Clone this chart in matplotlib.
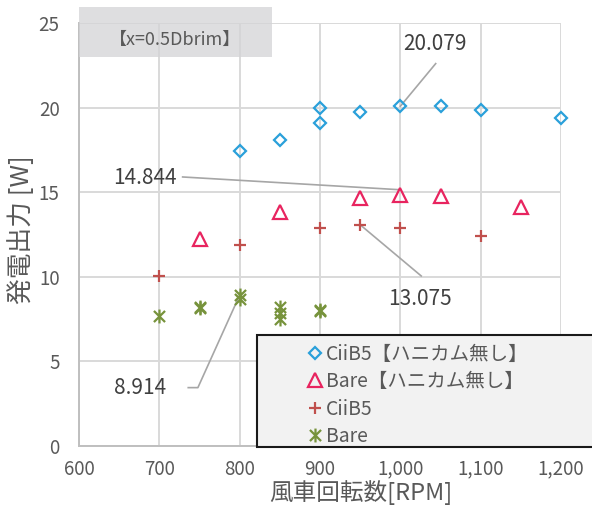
import matplotlib
matplotlib.use("Agg")
import matplotlib.pyplot as plt
from matplotlib.patches import Rectangle
from matplotlib.path import Path
from matplotlib.ticker import FuncFormatter

plt.rcParams['font.family'] = ['Noto Sans CJK JP', 'DejaVu Sans']

# Series data: rotor speed [RPM] vs. generated power [W]
ciib5_nohc_rpm = [800, 850, 900, 900, 950, 1000, 1050, 1100, 1200]
ciib5_nohc_w = [17.45, 18.08, 19.95, 19.07, 19.72, 20.079, 20.08, 19.85, 19.4]

bare_nohc_rpm = [750, 850, 950, 1000, 1050, 1150]
bare_nohc_w = [12.22, 13.83, 14.63, 14.844, 14.76, 14.13]

ciib5_rpm = [700, 800, 900, 950, 1000, 1100]
ciib5_w = [10.03, 11.86, 12.91, 13.075, 12.91, 12.40]

bare_rpm = [700, 750, 750, 800, 800, 850, 850, 850, 900, 900]
bare_w = [7.66, 8.15, 8.22, 8.914, 8.70, 8.20, 7.85, 7.50, 8.00, 8.06]

labels = ["CiiB5【ハニカム無し】", "Bare【ハニカム無し】", "CiiB5", "Bare"]
x_ticks = [600, 700, 800, 900, 1000, 1100, 1200]
y_ticks = [0, 5, 10, 15, 20, 25]
case_label = "【x=0.5Dbrim】"
x_label = "風車回転数[RPM]"
y_label = "発電出力 [W]"

c_blue = '#2aa0da'
c_pink = '#e8245f'
c_red = '#c0504d'
c_olive = '#77933c'
c_text = '#595959'
c_grid = '#d9d9d9'
c_leader = '#a6a6a6'

# Excel-style asterisk: an X with a vertical stroke
asterisk = Path([(-1, -1), (1, 1), (-1, 1), (1, -1), (0, -1.25), (0, 1.25)],
                [Path.MOVETO, Path.LINETO, Path.MOVETO, Path.LINETO,
                 Path.MOVETO, Path.LINETO])

fig = plt.figure(figsize=(5.92, 5.11), dpi=100)
W, H = 592, 511
ax = fig.add_axes([79 / W, (H - 446) / H, (561 - 79) / W, (446 - 23) / H])

ax.set_xlim(600, 1200)
ax.set_ylim(0, 25)
ax.set_xticks(x_ticks)
ax.set_yticks(y_ticks)
ax.xaxis.set_major_formatter(FuncFormatter(lambda v, p: f"{v:,.0f}"))
ax.grid(True, color=c_grid, linewidth=1.4, zorder=0)
ax.set_axisbelow(True)
for s in ['top', 'right']:
    ax.spines[s].set_visible(False)
for s in ['left', 'bottom']:
    ax.spines[s].set_color('#bfbfbf')
    ax.spines[s].set_linewidth(1.4)
ax.tick_params(length=0, labelsize=13.5, colors=c_text)
ax.tick_params(axis='y', pad=14)
ax.tick_params(axis='x', pad=9)
ax.set_xlabel(x_label, fontsize=17, color=c_text)
ax.set_ylabel(y_label, fontsize=18.5, color=c_text)
ax.xaxis.set_label_coords(0.585, -0.08)
ax.yaxis.set_label_coords(-0.092, 0.511)

mk = dict(linestyle='none', fillstyle='none', zorder=3, clip_on=False)
h1, = ax.plot(ciib5_nohc_rpm, ciib5_nohc_w, marker='D', markersize=6.5,
              markeredgewidth=1.6, color=c_blue, **mk)
h2, = ax.plot(bare_nohc_rpm, bare_nohc_w, marker='^', markersize=9.5,
              markeredgewidth=1.6, color=c_pink, **mk)
h3, = ax.plot(ciib5_rpm, ciib5_w, marker='+', markersize=9,
              markeredgewidth=1.6, color=c_red, **mk)
h4, = ax.plot(bare_rpm, bare_w, marker=asterisk, markersize=10,
              markeredgewidth=1.6, color=c_olive, **mk)

# value callouts with leader lines
ann = dict(fontsize=15, color='#404040', ha='center', va='center', zorder=4)
line = dict(color=c_leader, linewidth=1.2, zorder=2)

ax.text(1043, 23.75, f"{ciib5_nohc_w[5]:.3f}", **ann)
ax.plot([1044, ciib5_nohc_rpm[5]], [22.6, ciib5_nohc_w[5]], **line)

ax.text(682, 15.85, f"{bare_nohc_w[3]:.3f}", **ann)
ax.plot([729, bare_nohc_rpm[3]], [15.9, bare_nohc_w[3] + 0.3], **line)

ax.text(1024, 8.7, f"{ciib5_w[3]:.3f}", **ann)
ax.plot([1026, ciib5_rpm[3]], [10.05, ciib5_w[3]], **line)

ax.text(676, 3.45, f"{bare_w[3]:.3f}", **ann)
ax.plot([736, 748, bare_rpm[3]], [3.45, 3.45, bare_w[3]], **line)

# case label box in the upper-left corner
fig.patches.append(Rectangle((79 / W, (H - 57) / H), (272 - 79) / W, 50 / H,
                             transform=fig.transFigure, facecolor='#d4d4d6',
                             alpha=0.75, edgecolor='none', zorder=5))
fig.text(175 / W, 1 - 40 / H, case_label, fontsize=13, color=c_text,
         ha='center', va='center', zorder=6)

# legend panel
fig.patches.append(Rectangle((257 / W, (H - 447) / H), 360 / W, 112 / H,
                             transform=fig.transFigure, facecolor='#f2f2f2',
                             edgecolor='#1a1a1a', linewidth=1.5, zorder=5))
leg = fig.legend([h1, h2, h3, h4], labels, loc='upper left',
                 bbox_to_anchor=(297 / W, 1 - 334 / H), frameon=False,
                 fontsize=14, handlelength=0.8, handletextpad=0.2,
                 labelspacing=0.33, borderpad=0.0, labelcolor=c_text)
leg.set_zorder(6)

fig.savefig("out.png", dpi=100)
